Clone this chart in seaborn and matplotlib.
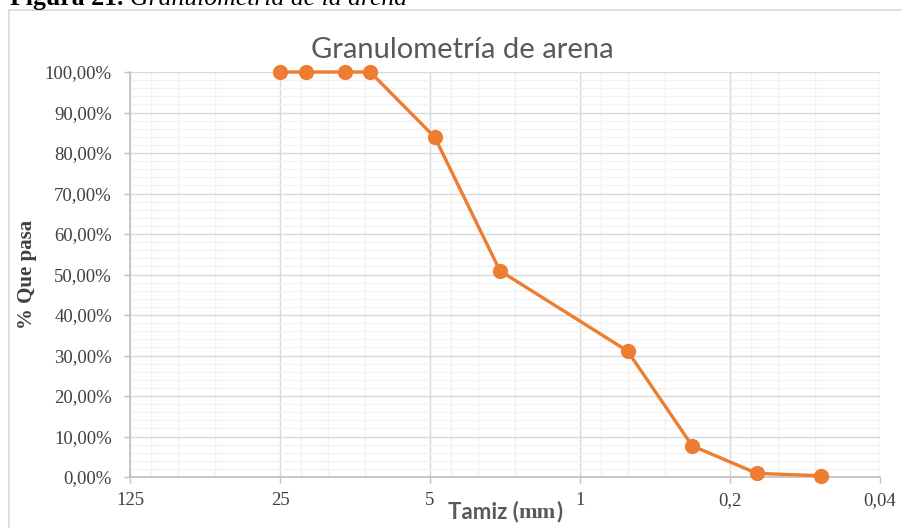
import numpy as np
import pandas as pd
import matplotlib
matplotlib.use('Agg')
import matplotlib.pyplot as plt
import matplotlib.ticker as mticker
from matplotlib.patches import Rectangle
import seaborn as sns

# Datos de la granulometría
tamiz_mm = [25, 19, 12.5, 9.5, 4.75, 2.36, 0.6, 0.3, 0.15, 0.075]
pct_pasa = [100.0, 100.0, 100.0, 100.0, 83.9, 50.9, 31.1, 7.7, 0.9, 0.3]
x_ticks = [125, 25, 5, 1, 0.2, 0.04]
x_tick_labels = ["125", "25", "5", "1", "0,2", "0,04"]
y_ticks = list(range(0, 101, 10))

ORANGE = "#ED7D31"
AXIS_GRAY = "#BFBFBF"
TEXT_GRAY = "#595959"
SERIF = "Liberation Serif"
SANS = ["Lato", "DejaVu Sans"]

sns.set_theme(style="white")
plt.rcParams['font.family'] = ['DejaVu Sans']

df = pd.DataFrame({"tamiz": tamiz_mm, "pasa": pct_pasa})

W, H = 903, 528
fig = plt.figure(figsize=(W / 100, H / 100), dpi=100)
ax = fig.add_axes([130 / W, 1 - 477 / H, 750 / W, 405 / H])

# chart frame
fig.patches.append(Rectangle((9 / W, -0.01), 1.0, 1 - 10 / H + 0.01, transform=fig.transFigure,
                             fill=False, edgecolor="#D9D9D9", linewidth=1.2, zorder=0))

sns.lineplot(data=df, x="tamiz", y="pasa", ax=ax, color=ORANGE, linewidth=2.4,
             marker="o", markersize=11, markeredgecolor=ORANGE, markeredgewidth=0,
             sort=False, zorder=5, clip_on=False)

ax.set_xscale("log", base=5)
ax.set_xlim(125, 0.04)
ax.set_ylim(0, 100)
ax.xaxis.set_major_locator(mticker.FixedLocator(x_ticks))
ax.xaxis.set_major_formatter(mticker.FixedFormatter(x_tick_labels))
ax.xaxis.set_minor_locator(mticker.LogLocator(base=5, subs=[2, 3, 4]))
ax.xaxis.set_minor_formatter(mticker.NullFormatter())
ax.yaxis.set_major_locator(mticker.FixedLocator(y_ticks))
ax.yaxis.set_major_formatter(mticker.FuncFormatter(lambda v, p: f"{v:.2f}".replace(".", ",") + "%"))
ax.yaxis.set_minor_locator(mticker.MultipleLocator(2))

ax.grid(which="minor", color="#F2F2F2", linewidth=1.0)
ax.grid(which="major", color="#D9D9D9", linewidth=1.0)
ax.set_axisbelow(True)

for s in ["top", "right"]:
    ax.spines[s].set_visible(False)
for s in ["left", "bottom"]:
    ax.spines[s].set_color(AXIS_GRAY)
    ax.spines[s].set_linewidth(1.2)

ax.tick_params(which="major", direction="out", length=4, width=1, color=AXIS_GRAY,
               labelcolor="#404040", labelsize=13.5, left=True, bottom=True)
ax.tick_params(axis="y", pad=9)
ax.tick_params(axis="x", pad=7)
ax.tick_params(which="minor", length=0)
for lab in ax.get_xticklabels() + ax.get_yticklabels():
    lab.set_fontfamily(SERIF)

ax.set_xlabel("")
ax.set_ylabel("")
fig.text(27 / W, 1 - 274 / H, "% Que pasa", rotation=90, ha="center", va="center",
         family=SERIF, fontweight="bold", fontsize=15, color="#404040")

# x axis title: "Tamiz (" sans, "mm" serif, ")" sans
fig.canvas.draw()
r = fig.canvas.get_renderer()
pieces = [("Tamiz (", SANS), ("mm", [SERIF]), (")", SANS)]
texts = []
for s, fam in pieces:
    t = fig.text(0, 1 - 518 / H, s, ha="left", va="baseline", fontsize=16,
                 fontweight="bold", color=TEXT_GRAY, family=fam)
    texts.append(t)
widths = [t.get_window_extent(r).width for t in texts]
x0 = 505 - sum(widths) / 2
for t, w in zip(texts, widths):
    t.set_x(x0 / W)
    x0 += w

fig.text(462 / W, 1 - 58 / H, "Granulometría de arena", ha="center", va="baseline",
         fontsize=21, color=TEXT_GRAY, family=SANS)

# figure caption (cut at the top edge, as in the source)
cap1 = fig.text(10 / W, 1 - 5 / H, "Figura 21. ", ha="left", va="baseline",
                fontsize=18.5, fontweight="bold", color="black", family=SERIF)
bb = cap1.get_window_extent(r)
fig.text(bb.x1 / W, 1 - 5 / H, "Granulometría de la arena", ha="left", va="baseline",
         fontsize=18.5, fontstyle="italic", color="black", family=SERIF)

fig.savefig("out.png", dpi=100)
